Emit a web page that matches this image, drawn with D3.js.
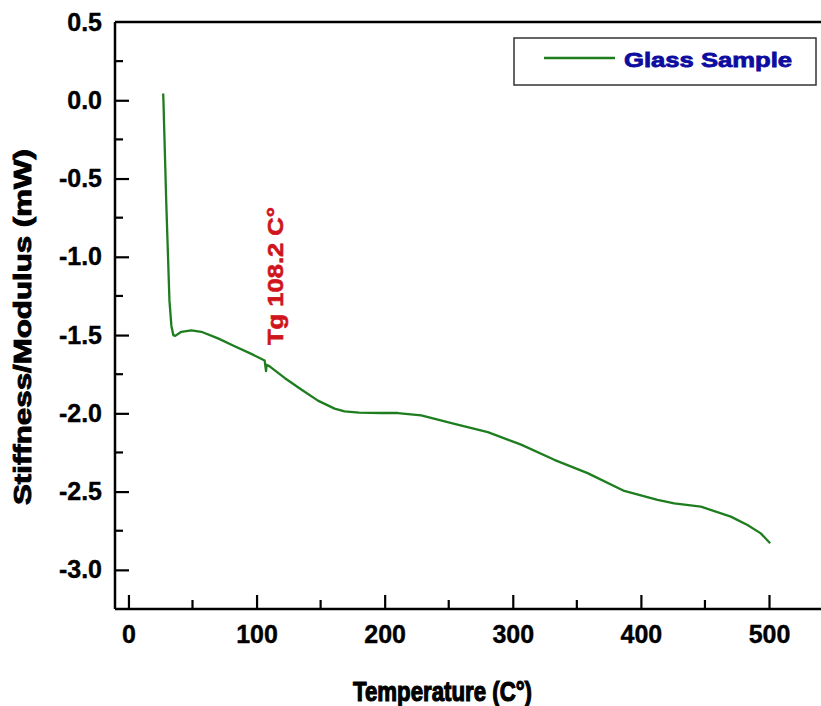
<!DOCTYPE html>
<html>
<head>
<meta charset="utf-8">
<script src="https://cdn.jsdelivr.net/npm/d3@7"></script>
<style>
  body { margin: 0; background: #fff; }
  svg text { font-family: "Liberation Sans", Arial, sans-serif; font-weight: bold; }
</style>
</head>
<body>
<div id="chart"></div>
<script>
// Glass sample trace
var tempValues = [27.1, 27.3, 29.5, 32, 33.5, 35.0, 36.5, 41.3, 49.1, 56.9, 69.9, 82.9, 95.9, 106.3, 107.4, 107.8, 110.2, 121.9, 134.9, 147.9, 160.9, 168.7, 180, 197.3, 210.3, 228.5, 254.5, 280.5, 306.5, 332.4, 358.4, 387, 413, 426, 446.8, 470.2, 483.2, 493.6, 500.9];
var stiffValues = [0.043, 0.0, -0.65, -1.28, -1.44, -1.50, -1.505, -1.479, -1.47, -1.479, -1.521, -1.571, -1.62, -1.662, -1.73, -1.69, -1.70, -1.774, -1.848, -1.919, -1.97, -1.987, -1.995, -1.998, -1.998, -2.013, -2.068, -2.12, -2.2, -2.297, -2.382, -2.496, -2.553, -2.575, -2.596, -2.66, -2.714, -2.767, -2.83];

var xTicks = [0, 100, 200, 300, 400, 500];
var xMinorTicks = [50, 150, 250, 350, 450];
var yTicks = [0.5, 0.0, -0.5, -1.0, -1.5, -2.0, -2.5, -3.0];
var yMinorTicks = [0.25, -0.25, -0.75, -1.25, -1.75, -2.25, -2.75];

var seriesName = 'Glass Sample';
var tgLabel = 'Tg 108.2 C°';
var xTitleText = 'Temperature (C°)';
var yTitleText = 'Stiffness/Modulus (mW)';

var width = 821, height = 706;
var margins = { left: 115, top: 22, right: 0, bottom: 97 };

var svg = d3.select('#chart')
  .append('svg')
  .attr('width', width)
  .attr('height', height);

var xScale = d3.scaleLinear().domain([-10.5, 500]).range([margins.left, 769]);
var yScale = d3.scaleLinear().domain([-3.25, 0.5]).range([height - margins.bottom, margins.top]);

var data = tempValues.map((t, i) => ({ t: t, v: stiffValues[i] }));

// top edge of the frame
svg.append('line')
  .attr('x1', margins.left).attr('x2', width)
  .attr('y1', yScale(0.5)).attr('y2', yScale(0.5))
  .attr('stroke', '#000').attr('stroke-width', 2.5);

var xAxis = d3.axisBottom(xScale)
  .tickValues(xTicks)
  .tickSize(-14)
  .tickPadding(16)
  .tickFormat(d => String(d));

var gx = svg.append('g')
  .attr('transform', `translate(0,${yScale(-3.25)})`)
  .call(xAxis);

gx.select('.domain').remove();
gx.append('line')
  .attr('x1', margins.left).attr('x2', width)
  .attr('stroke', '#000').attr('stroke-width', 2.5);
gx.selectAll('.tick line').attr('stroke-width', 2.2);
gx.selectAll('.tick text')
  .attr('font-size', 25)
  .attr('fill', '#000')
  .attr('stroke', '#000').attr('stroke-width', 0.4);

gx.selectAll('.minor')
  .data(xMinorTicks)
  .enter()
  .append('line')
  .attr('x1', d => xScale(d)).attr('x2', d => xScale(d))
  .attr('y1', 0).attr('y2', -9)
  .attr('stroke', '#000').attr('stroke-width', 2.2);

var yAxis = d3.axisLeft(yScale)
  .tickValues(yTicks)
  .tickSize(-14)
  .tickPadding(13)
  .tickFormat(d => d.toFixed(1));

var gy = svg.append('g')
  .attr('transform', `translate(${margins.left},0)`)
  .call(yAxis);

gy.select('.domain').remove();
gy.append('line')
  .attr('y1', yScale(0.5)).attr('y2', yScale(-3.25))
  .attr('stroke', '#000').attr('stroke-width', 2.5);
gy.selectAll('.tick line').attr('stroke-width', 2.2);
gy.selectAll('.tick text')
  .attr('font-size', 25)
  .attr('fill', '#000')
  .attr('stroke', '#000').attr('stroke-width', 0.4);
gy.selectAll('.tick').filter(d => d === 0.5).select('line').remove();

gy.selectAll('.minor')
  .data(yMinorTicks)
  .enter()
  .append('line')
  .attr('y1', d => yScale(d)).attr('y2', d => yScale(d))
  .attr('x1', 0).attr('x2', 8)
  .attr('stroke', '#000').attr('stroke-width', 2.2);

// axis titles
svg.append('text')
  .attr('x', 353)
  .attr('y', 701)
  .attr('font-size', 28)
  .attr('fill', '#000')
  .attr('stroke', '#000').attr('stroke-width', 1.2)
  .attr('textLength', 179)
  .attr('lengthAdjust', 'spacingAndGlyphs')
  .text(xTitleText);

svg.append('text')
  .attr('transform', `translate(31,327) rotate(-90)`)
  .attr('text-anchor', 'middle')
  .attr('font-size', 24)
  .attr('fill', '#000')
  .attr('stroke', '#000').attr('stroke-width', 0.9)
  .attr('textLength', 356)
  .attr('lengthAdjust', 'spacingAndGlyphs')
  .text(yTitleText);

// curve
var line = d3.line()
  .x(d => xScale(d.t))
  .y(d => yScale(d.v));

svg.append('path')
  .datum(data)
  .attr('fill', 'none')
  .attr('stroke', '#1e7d1e')
  .attr('stroke-width', 2.3)
  .attr('stroke-linejoin', 'round')
  .attr('d', line);

// Tg annotation
svg.append('text')
  .attr('transform', 'translate(283,345) rotate(-90)')
  .attr('font-size', 22)
  .attr('fill', '#d0141c')
  .attr('stroke', '#d0141c').attr('stroke-width', 0.6)
  .attr('textLength', 138)
  .attr('lengthAdjust', 'spacingAndGlyphs')
  .text(tgLabel);

// legend
var legend = svg.append('g').attr('transform', 'translate(514,38)');
legend.append('rect')
  .attr('width', 302).attr('height', 47)
  .attr('fill', '#fff')
  .attr('stroke', '#333').attr('stroke-width', 1.5);
legend.append('line')
  .attr('x1', 30).attr('x2', 101)
  .attr('y1', 20).attr('y2', 20)
  .attr('stroke', '#1e7d1e').attr('stroke-width', 2.5);
legend.append('text')
  .attr('x', 110).attr('y', 29)
  .attr('font-size', 21)
  .attr('fill', '#0c0ca0')
  .attr('stroke', '#0c0ca0').attr('stroke-width', 0.8)
  .attr('textLength', 168)
  .attr('lengthAdjust', 'spacingAndGlyphs')
  .text(seriesName);
</script>
</body>
</html>
